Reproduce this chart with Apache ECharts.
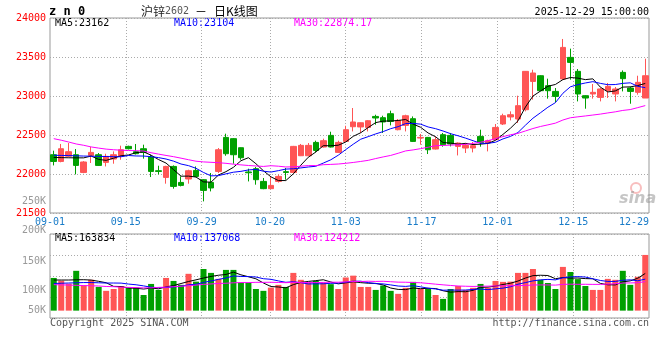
<!DOCTYPE html>
<html><head><meta charset="utf-8">
<script src="https://cdn.jsdelivr.net/npm/echarts@6/dist/echarts.min.js"></script>
<style>html,body{margin:0;padding:0;background:#fff}#c{width:660px;height:360px}</style>
</head><body><div id="c"></div>
<script>
// ---- data ----
const dates = ['09-01','09-02','09-03','09-04','09-05','09-08','09-09','09-10','09-11','09-12','09-15','09-16','09-17','09-18','09-19','09-22','09-23','09-24','09-25','09-26','09-29','09-30',
'10-09','10-10','10-13','10-14','10-15','10-16','10-17','10-20','10-21','10-22','10-23','10-24','10-27','10-28','10-29','10-30','10-31',
'11-03','11-04','11-05','11-06','11-07','11-10','11-11','11-12','11-13','11-14','11-17','11-18','11-19','11-20','11-21','11-24','11-25','11-26','11-27','11-28',
'12-01','12-02','12-03','12-04','12-05','12-08','12-09','12-10','12-11','12-12','12-15','12-16','12-17','12-18','12-19','12-22','12-23','12-24','12-25','12-26','12-29'];
const xTickLabels = ['09-01','09-15','09-29','10-20','11-03','11-17','12-01','12-15','12-29'];
const opens = [22247,22161,22228,22247,22020,22238,22247,22149,22192,22228,22354,22286,22324,22218,22042,21956,22097,21892,21936,22046,21927,21892,
22033,22469,22453,22337,22026,22068,21905,21812,21905,22030,22020,22234,22234,22405,22346,22495,22277,
22418,22606,22603,22597,22738,22722,22773,22568,22623,22709,22461,22469,22320,22504,22495,22354,22333,22333,22482,22397,
22440,22641,22731,22705,22824,23187,23260,23132,23059,23218,23495,23316,23004,23026,22982,23068,23026,23303,23102,23047,22974];
const closes = [22161,22324,22286,22110,22154,22277,22110,22226,22247,22311,22324,22260,22277,22033,22033,22097,21841,21854,22042,21969,21790,21821,
22311,22260,22247,22209,22016,21927,21812,21854,21969,22020,22354,22367,22367,22302,22427,22346,22405,
22568,22667,22657,22683,22718,22667,22674,22687,22747,22418,22469,22311,22440,22376,22385,22397,22367,22363,22405,22427,
22597,22747,22760,22876,23316,23295,23068,23068,22995,23623,23431,23026,22974,23047,23090,23123,23090,23222,23059,23175,23260];
const highs = [22299,22385,22397,22320,22165,22346,22269,22260,22290,22363,22363,22385,22376,22247,22106,22105,22110,21969,22055,22097,21935,22013,
22333,22517,22460,22340,22068,22090,21949,21969,21991,22077,22360,22385,22397,22427,22453,22542,22427,
22618,22846,22660,22690,22760,22747,22812,22705,22760,22738,22513,22475,22482,22526,22526,22405,22397,22410,22568,22440,
22641,22773,22803,23004,23320,23337,23265,23222,23102,23731,23607,23346,23010,23154,23107,23167,23115,23328,23120,23260,23478];
const lows = [22110,22150,22215,21995,22010,22141,22105,22097,22132,22183,22315,22250,22197,21961,21995,21876,21812,21841,21876,21960,21649,21777,
22013,22234,22132,22183,21905,21863,21805,21805,21890,21927,22015,22230,22230,22277,22340,22340,22269,
22410,22546,22526,22546,22632,22526,22623,22560,22546,22410,22376,22256,22315,22350,22354,22238,22269,22277,22350,22290,
22435,22628,22687,22654,22803,22953,23060,22966,22918,23210,23209,22931,22837,22966,22931,22974,22931,23059,22901,23017,22974];
const ma5 = [22212,22210,22208,22207,22207,22230,22187,22175,22203,22234,22244,22274,22284,22241,22185,22140,22056,21972,21973,21961,21899,21895,
21987,22030,22086,22170,22209,22132,22042,21964,21916,21916,22002,22113,22215,22282,22363,22362,22369,
22410,22483,22529,22596,22659,22678,22680,22686,22699,22639,22599,22526,22477,22403,22396,22382,22393,22378,22383,22392,
22432,22508,22587,22681,22859,22999,23063,23125,23148,23210,23237,23229,23210,23220,23114,23052,23065,23114,23117,23134,23161];
const ma10 = [22240,22238,22236,22233,22230,22228,22226,22224,22222,22221,22237,22231,22230,22222,22210,22192,22165,22128,22107,22073,22020,21976,
21979,22002,22023,22034,22052,22059,22036,22025,22043,22063,22067,22078,22090,22099,22140,22182,22241,
22313,22382,22446,22479,22514,22544,22581,22607,22647,22649,22639,22603,22581,22551,22517,22490,22460,22427,22393,22394,
22407,22450,22482,22532,22626,22715,22785,22856,22915,23035,23118,23146,23167,23184,23162,23145,23147,23162,23169,23124,23107];
const ma30 = [22453,22433,22410,22385,22368,22347,22332,22319,22311,22305,22301,22299,22294,22273,22255,22238,22222,22203,22183,22164,22155,22150,
22145,22137,22126,22117,22109,22103,22097,22106,22100,22090,22092,22100,22108,22108,22119,22123,22128,
22137,22148,22161,22175,22198,22219,22238,22266,22296,22309,22325,22343,22363,22366,22370,22375,22380,22392,22407,22428,
22453,22479,22503,22521,22552,22583,22609,22630,22652,22692,22721,22733,22744,22756,22768,22783,22797,22815,22826,22851,22877];
const volumes = [142000,130000,117000,173000,110000,134000,103000,86000,94000,107000,
100000,100000,68000,116000,90000,142000,129000,112000,160000,126000,
181000,164000,138000,177000,177000,122000,122000,94000,86000,100000,
112000,103000,164000,134000,122000,129000,122000,115000,94000,144000,
152000,103000,103000,90000,109000,86000,73000,99000,125000,94000,
94000,68000,51000,94000,107000,90000,99000,116000,99000,129000,
125000,126000,164000,164000,181000,134000,120000,94000,190000,168000,
137000,107000,90000,90000,138000,134000,173000,112000,147000,242000];
const volMa5 = [133000,133000,133000,134000,134400,132800,127400,121200,105400,104800,
98000,97400,93800,98200,94800,103200,109000,117800,126600,133800,
141600,148600,153800,157200,167400,155600,147200,138400,120200,104800,
102800,99000,113000,122600,127000,130400,134200,124400,116400,120800,
125400,121600,119200,118400,111400,98200,92200,91400,98400,95400,
97000,96000,86400,80200,82800,82000,88200,101200,102200,106600,
113600,119000,128600,141600,152000,153800,152600,138600,143800,141200,
141800,139200,138400,118400,112400,111800,125000,129400,140800,161600];
const volMa10 = [118000,119000,120000,121000,122000,122000,121000,120000,120000,119600,
115400,112400,107500,101800,99800,100600,103200,105800,112400,114300,
122400,128800,135800,141900,150600,148600,147900,146100,138700,136100,
129200,123100,125700,121400,115900,116600,116600,118700,119500,123900,
127900,127900,121800,117400,116100,111800,106900,105300,108400,103400,
97600,94100,88900,89300,89100,89500,92100,93800,91200,94700,
97800,103600,114900,121900,129300,133700,135800,133600,142700,146600,
147800,145900,138500,131100,126800,126800,132100,133900,129600,137000];
const volMa30 = [113000,112000,111000,110000,109000,108000,107000,105000,104000,102000,
101000,100000,99000,99000,101000,102000,104000,106000,108000,111000,
114000,116000,118000,119000,121000,122000,122000,123000,123000,123300,
122300,121400,123000,121700,122100,121900,122600,123500,123500,124800,
126500,126600,127800,126900,127500,125700,123800,123400,122200,121100,
118200,115000,112100,109400,107000,106000,105200,105900,106400,107300,
107800,108500,108500,109500,111500,111700,111600,110900,114100,114900,
114400,114500,114100,114100,115100,116700,120000,120400,121200,126100];
const priceLegend = ['MA5:23162','MA10:23104','MA30:22874.17'];
const volLegend = ['MA5:163834','MA10:137068','MA30:124212'];
const volAxisLabels = ['250K','200K','150K','100K','50K'];

// ---- chart ----
const UP = '#ff5555', DOWN = '#00a000';
const MONO = '"DejaVu Sans Mono", monospace';
const CJK = '"Noto Sans CJK SC", sans-serif';
const GRIDC = '#aaaaaa';
const showTick = dates.map(d => xTickLabels.indexOf(d) >= 0);
const candleData = dates.map((d, i) => [opens[i], closes[i], lows[i], highs[i]]);
const volData = volumes.map((v, i) => ({ value: v, itemStyle: { color: closes[i] >= opens[i] ? UP : DOWN } }));
const hiddenCat = (gi) => ({ type: 'category', gridIndex: gi, data: dates, boundaryGap: true, position: 'top',
  axisLine: { show: false }, axisTick: { show: false }, axisLabel: { show: false }, splitLine: { show: false } });
const gridCat = (gi, labels) => ({ type: 'category', gridIndex: gi, data: dates, boundaryGap: false, position: 'bottom',
  axisLine: { show: false }, axisTick: { show: false },
  axisLabel: labels ? { interval: (i) => showTick[i], color: '#1a7cc8', fontFamily: MONO, fontSize: 10, margin: 4,
    showMinLabel: true, showMaxLabel: true, alignMaxLabel: 'right' } : { show: false },
  splitLine: { show: true, interval: (i) => showTick[i] && i > 0 && i < dates.length - 1,
    lineStyle: { color: GRIDC, type: [1, 2], width: 1 } } });
const line = (data, color, xi, yi) => ({ type: 'line', data, xAxisIndex: xi, yAxisIndex: yi, symbol: 'none', showSymbol: false,
  lineStyle: { color, width: 1 }, itemStyle: { color }, silent: true, z: 5 });
const txt = (x, y, text, fill, extra) => ({ type: 'text', x, y, silent: true,
  style: Object.assign({ text, fill, font: '10px ' + MONO, textVerticalAlign: 'middle' }, extra || {}) });

const option = {
  animation: false,
  backgroundColor: '#fff',
  grid: [
    { left: 50, top: 18, width: 599, height: 195, show: true, borderColor: '#999', borderWidth: 1, backgroundColor: 'transparent' },
    { left: 50, top: 234, width: 599, height: 84, show: true, borderColor: '#999', borderWidth: 1, backgroundColor: 'transparent' }
  ],
  xAxis: [hiddenCat(0), gridCat(0, true), hiddenCat(1), gridCat(1, false)],
  yAxis: [
    { type: 'value', gridIndex: 0, min: 21500, max: 24000, interval: 500,
      axisLine: { show: false }, axisTick: { show: false },
      axisLabel: { color: '#ff0000', fontFamily: MONO, fontSize: 10, margin: 4, formatter: (v) => String(v) },
      splitLine: { lineStyle: { color: GRIDC, type: [1, 2] } } },
    { type: 'value', gridIndex: 1, min: -32000, max: 333000,
      axisLine: { show: false }, axisTick: { show: false }, axisLabel: { show: false }, splitLine: { show: false } },
    { type: 'value', gridIndex: 1, min: 0, max: 4, interval: 1,
      axisLine: { show: false }, axisTick: { show: false }, axisLabel: { show: false },
      splitLine: { lineStyle: { color: GRIDC, type: [1, 2] } } }
  ],
  series: [
    { type: 'candlestick', xAxisIndex: 0, yAxisIndex: 0, data: candleData, barWidth: 6,
      itemStyle: { color: UP, color0: DOWN, borderColor: UP, borderColor0: DOWN, borderWidth: 1 }, z: 3 },
    line(ma5, '#000000', 0, 0),
    line(ma10, '#0000ff', 0, 0),
    line(ma30, '#ff00ff', 0, 0),
    { type: 'bar', xAxisIndex: 2, yAxisIndex: 1, data: volData, barWidth: 6, z: 3 },
    line(volMa5, '#000000', 2, 1),
    line(volMa10, '#0000ff', 2, 1),
    line(volMa30, '#ff00ff', 2, 1)
  ],
  graphic: [
    txt(49, 11.5, 'z n 0', '#000', { font: 'bold 12px ' + MONO }),
    txt(141, 11, '沪锌', '#222', { font: '12px ' + CJK }),
    txt(165, 11.5, '2602', '#555', { font: '10px ' + MONO }),
    txt(195, 11, '－', '#000', { font: '12px ' + CJK }),
    txt(214, 11, '日K线图', '#000', { font: '12px ' + CJK }),
    txt(649, 12, '2025-12-29 15:00:00', '#000', { textAlign: 'right' }),
    txt(55, 23.7, priceLegend[0], '#000'),
    txt(174, 23.7, priceLegend[1], '#0000ff'),
    txt(294, 23.7, priceLegend[2], '#ff00ff'),
    txt(55, 238.7, volLegend[0], '#000'),
    txt(174, 238.7, volLegend[1], '#0000ff'),
    txt(294, 238.7, volLegend[2], '#ff00ff'),
    txt(46, 201, volAxisLabels[0], '#999', { textAlign: 'right' }),
    txt(46, 230.5, volAxisLabels[1], '#999', { textAlign: 'right' }),
    txt(46, 261, volAxisLabels[2], '#999', { textAlign: 'right' }),
    txt(46, 290, volAxisLabels[3], '#999', { textAlign: 'right' }),
    txt(46, 310, volAxisLabels[4], '#999', { textAlign: 'right' }),
    txt(50, 323.5, 'Copyright 2025 SINA.COM', '#555'),
    txt(649, 323.5, 'http://finance.sina.com.cn', '#555', { textAlign: 'right' }),
    { type: 'circle', silent: true, shape: { cx: 636, cy: 188, r: 5 }, style: { fill: 'none', stroke: 'rgba(240,110,110,0.45)', lineWidth: 2 } },
    txt(619, 199, 'sina', 'rgba(150,150,150,0.55)', { font: 'italic bold 16px "DejaVu Sans", sans-serif' })
  ]
};
echarts.init(document.getElementById('c')).setOption(option);
</script></body></html>
